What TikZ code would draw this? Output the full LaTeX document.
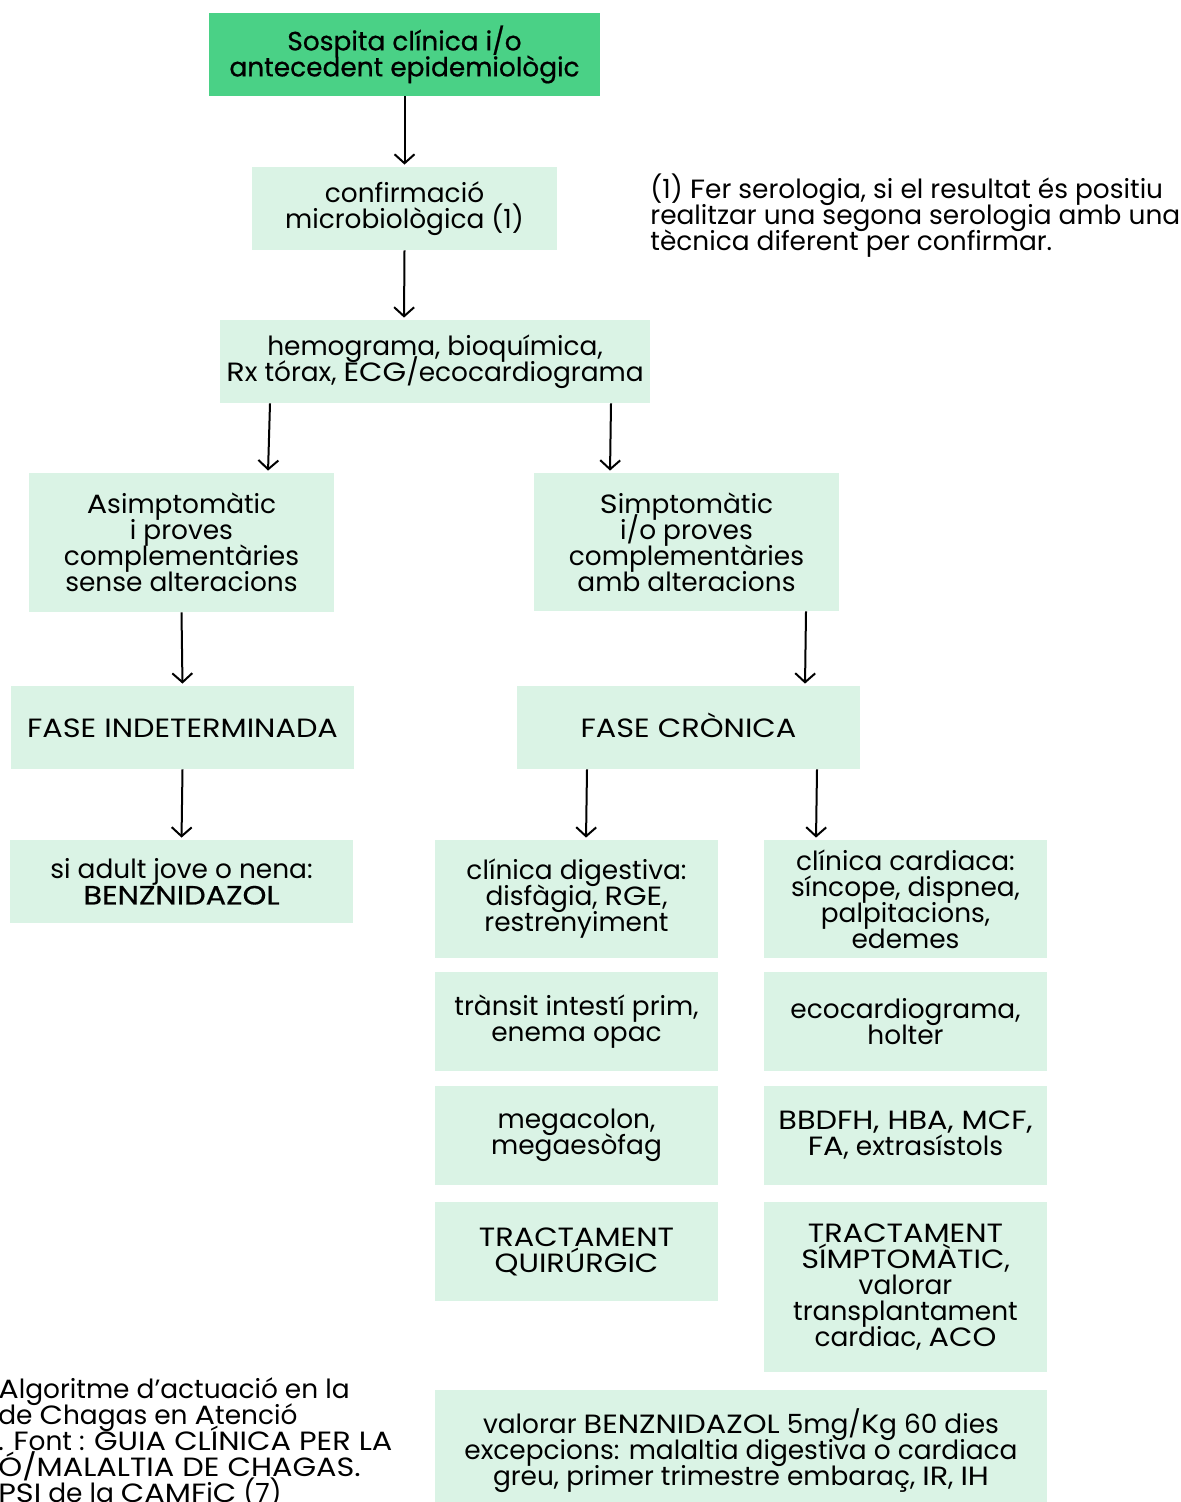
\documentclass[tikz,border=0pt]{standalone}
\usepackage{fontspec}
\setmainfont{Poppins}
\newfontfamily\widefont{Poppins}[FakeStretch=1.15]
\newfontfamily\medfont{Poppins}[FakeBold=0.6]
\newfontfamily\medwidefont{Poppins}[FakeStretch=1.15,FakeBold=0.6]
\newcommand{\wc}[1]{{\widefont #1}}
\usetikzlibrary{arrows.meta}

\definecolor{topgreen}{RGB}{74,209,134}
\definecolor{palegreen}{RGB}{218,243,229}

\tikzset{
	box/.style={fill=palegreen, align=center, inner sep=0pt, font=\fontsize{13.2}{13}\selectfont},
	topbox/.style={box, fill=topgreen},
	note/.style={align=left, inner sep=0pt, font=\fontsize{13.2}{13}\selectfont},
	arr/.style={draw=black, line width=1pt, -{Straight Barb[length=4.5pt,width=10pt]}, shorten >=1pt}
}

\begin{document}
\lineskiplimit=-100pt
\begin{tikzpicture}[x=0.5pt, y=-0.5pt]
\useasboundingbox (0,0) rectangle (1180,1502);
% top of the tree
\node[topbox, minimum width=195.5pt, minimum height=41.5pt] (suspicion) at (404.5,54.5) {{\medfont Sospita clínica i/o}\\{\medfont antecedent epidemiològic}};
\node[box, minimum width=152.5pt, minimum height=41.5pt] (confirm) at (404.5,208.5) {confirmació\\microbiològica (1)};
\node[box, minimum width=215pt, minimum height=41.5pt] (tests) at (435,361.5) {hemograma, bioquímica,\\\wc{R}x tórax, \wc{ECG}/ecocardiograma};
\node[note, anchor=north west] (footnote) at (650,173) {(1) \wc{F}er serologia, si el resultat és positiu\\realitzar una segona serologia amb una\\tècnica diferent per confirmar.};
% two branches
\node[box, minimum width=152.5pt, minimum height=69.5pt] (asympt) at (181.5,542.5) {\wc{A}simptomàtic\\i proves\\complementàries\\sense alteracions};
\node[box, minimum width=152.5pt, minimum height=69pt] (sympt) at (686.5,542) {\wc{S}imptomàtic\\i/o proves\\complementàries\\amb alteracions};
\node[box, minimum width=171.5pt, minimum height=41.5pt, text height=9.5pt, text depth=0pt] (indet) at (182.5,727.5) {\wc{FASE INDETERMINADA}};
\node[box, minimum width=171.5pt, minimum height=41.5pt, text height=9.5pt, text depth=0pt] (chronic) at (688.5,727.5) {\wc{FASE CRÒNICA}};
\node[box, minimum width=171.5pt, minimum height=41.5pt] (adult) at (181.5,881.5) {si adult jove o nena:\\{\medwidefont BENZNIDAZOL}};
% chronic phase columns
\node[box, minimum width=141.5pt, minimum height=59pt] (digest) at (576.5,899) {clínica digestiva:\\disfàgia, \wc{RGE},\\restrenyiment};
\node[box, minimum width=141.5pt, minimum height=59pt] (cardiac) at (905.5,899) {clínica cardiaca:\\síncope, dispnea,\\palpitacions,\\edemes};
\node[box, minimum width=141.5pt, minimum height=49.5pt] (transit) at (576.5,1021.5) {trànsit intestí prim,\\enema opac};
\node[box, minimum width=141.5pt, minimum height=49.5pt] (echo) at (905.5,1021.5) {ecocardiograma,\\holter};
\node[box, minimum width=141.5pt, minimum height=49.5pt] (mega) at (576.5,1135.5) {megacolon,\\megaesòfag};
\node[box, minimum width=141.5pt, minimum height=49.5pt] (block) at (905.5,1135.5) {\wc{BBDFH, HBA, MCF,}\\\wc{FA}, extrasístols};
\node[box, minimum width=141.5pt, minimum height=49.5pt] (surgery) at (576.5,1251.5) {\wc{TRACTAMENT}\\\wc{QUIRÚRGIC}};
\node[box, minimum width=141.5pt, minimum height=85pt] (symtreat) at (905.5,1287) {\wc{TRACTAMENT}\\\wc{SÍMPTOMÀTIC},\\valorar\\transplantament\\cardiac, \wc{ACO}};
\node[box, minimum width=306pt, minimum height=61pt] (benz) at (741,1451) {valorar \wc{BENZNIDAZOL} 5mg/\wc{K}g 60 dies\\excepcions: malaltia digestiva o cardiaca\\greu, primer trimestre embaraç, \wc{IR}, \wc{IH}};
\node[note, anchor=north west] (caption) at (-2,1377) {\wc{A}lgoritme d’actuació en la\\de \wc{C}hagas en \wc{A}tenció\\. \wc{F}ont : \wc{GUIA CLÍNICA PER LA}\\\wc{Ó/MALALTIA DE CHAGAS.}\\\wc{PSI} de la \wc{CAMF}i\wc{C} (7)};
% arrows
\draw[arr] (suspicion.south) -- (confirm.north);
\draw[arr] (confirm.south) -- ([xshift=-15.5pt]tests.north);
\draw[arr] ([xshift=-82.5pt]tests.south) -- ([xshift=43.25pt]asympt.north);
\draw[arr] ([xshift=88pt]tests.south) -- ([xshift=-38.25pt]sympt.north);
\draw[arr] (asympt.south) -- (indet.north);
\draw[arr] ([xshift=59.75pt]sympt.south) -- ([xshift=58.25pt]chronic.north);
\draw[arr] (indet.south) -- (adult.north);
\draw[arr] ([xshift=-50.75pt]chronic.south) -- ([xshift=4.75pt]digest.north);
\draw[arr] ([xshift=64.25pt]chronic.south) -- ([xshift=-44.75pt]cardiac.north);
\end{tikzpicture}
\end{document}
